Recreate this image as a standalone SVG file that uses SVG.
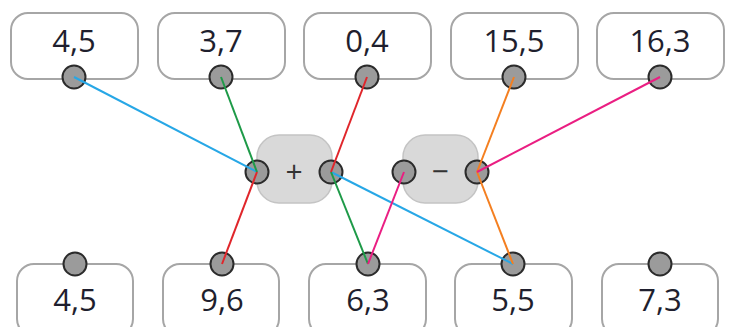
<svg xmlns="http://www.w3.org/2000/svg" width="729" height="327" viewBox="0 0 729 327">
<style>
.box{fill:#fff;stroke:#a6a6a6;stroke-width:2}
.op{fill:#d9d9d9;stroke:#c4c4c4;stroke-width:1.5}
.dot{fill:#9b9b9b;stroke:#2b2b2b;stroke-width:2}
.t{font-family:"Open Sans",sans-serif;font-size:31px;fill:#1f1f2e;text-anchor:middle}
.s{font-family:"Open Sans",sans-serif;font-size:30px;fill:#333;text-anchor:middle}
.c line{stroke-width:2;fill:none}
</style>
<rect width="729" height="327" fill="#fff"/>
<g id="n-top-1"><rect class="box" x="11" y="13" width="127" height="66" rx="17"/><text class="t" x="74" y="52">4,5</text><circle class="dot" cx="74" cy="77" r="11.5"/></g>
<g id="n-top-2"><rect class="box" x="158" y="13" width="127" height="66" rx="17"/><text class="t" x="221" y="52">3,7</text><circle class="dot" cx="221" cy="77" r="11.5"/></g>
<g id="n-top-3"><rect class="box" x="304" y="13" width="127" height="66" rx="17"/><text class="t" x="367" y="52">0,4</text><circle class="dot" cx="367" cy="77" r="11.5"/></g>
<g id="n-top-4"><rect class="box" x="451" y="13" width="127" height="66" rx="17"/><text class="t" x="514" y="52">15,5</text><circle class="dot" cx="514" cy="77" r="11.5"/></g>
<g id="n-top-5"><rect class="box" x="597" y="13" width="127" height="66" rx="17"/><text class="t" x="660" y="52">16,3</text><circle class="dot" cx="660" cy="77" r="11.5"/></g>
<g id="n-plus"><rect class="op" x="257" y="135" width="75" height="68" rx="22"/><text class="s" x="294" y="182">+</text><circle class="dot" cx="257" cy="172" r="11.5"/><circle class="dot" cx="331" cy="172" r="11.5"/></g>
<g id="n-minus"><rect class="op" x="403" y="135" width="75" height="68" rx="22"/><text class="s" x="440" y="182">−</text><circle class="dot" cx="404" cy="172" r="11.5"/><circle class="dot" cx="477" cy="172" r="11.5"/></g>
<g id="n-bot-1"><rect class="box" x="17" y="264" width="116" height="72" rx="17"/><text class="t" x="75" y="311">4,5</text><circle class="dot" cx="75" cy="264" r="11.5"/></g>
<g id="n-bot-2"><rect class="box" x="163" y="264" width="116" height="72" rx="17"/><text class="t" x="222" y="311">9,6</text><circle class="dot" cx="222" cy="264" r="11.5"/></g>
<g id="n-bot-3"><rect class="box" x="309" y="264" width="117" height="72" rx="17"/><text class="t" x="368" y="311">6,3</text><circle class="dot" cx="368" cy="264" r="11.5"/></g>
<g id="n-bot-4"><rect class="box" x="455" y="264" width="117" height="72" rx="17"/><text class="t" x="513" y="311">5,5</text><circle class="dot" cx="513" cy="264" r="11.5"/></g>
<g id="n-bot-5"><rect class="box" x="602" y="264" width="116" height="72" rx="17"/><text class="t" x="660" y="311">7,3</text><circle class="dot" cx="660" cy="264" r="11.5"/></g>
<g id="connectors" class="c">
<line x1="74" y1="77" x2="257" y2="172" stroke="#27a7e6"/>
<line x1="331" y1="172" x2="513" y2="264" stroke="#27a7e6"/>
<line x1="221" y1="77" x2="257" y2="172" stroke="#1e9a48"/>
<line x1="331" y1="172" x2="368" y2="264" stroke="#1e9a48"/>
<line x1="367" y1="77" x2="331" y2="172" stroke="#e0262b"/>
<line x1="257" y1="172" x2="222" y2="264" stroke="#e0262b"/>
<line x1="514" y1="77" x2="477" y2="172" stroke="#f47f20"/>
<line x1="477" y1="172" x2="513" y2="264" stroke="#f47f20"/>
<line x1="660" y1="77" x2="477" y2="172" stroke="#ea1e82"/>
<line x1="404" y1="172" x2="368" y2="264" stroke="#ea1e82"/>
</g>
</svg>
